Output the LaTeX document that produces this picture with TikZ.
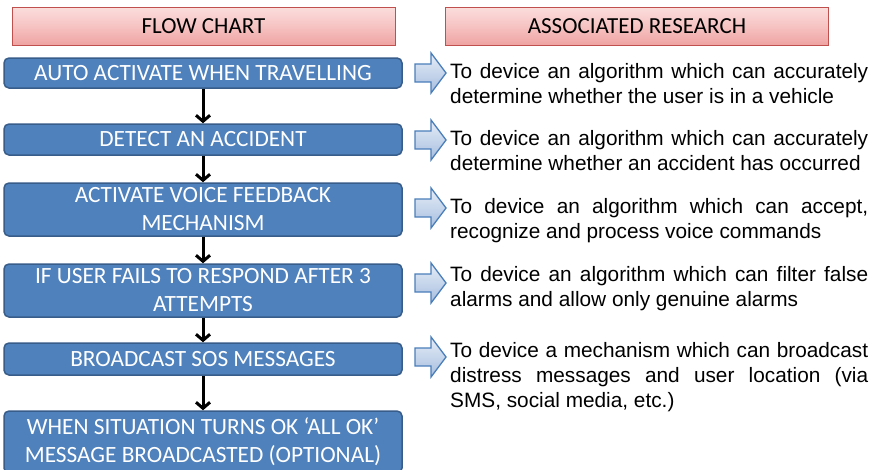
\documentclass[tikz,border=0pt]{standalone}
\usepackage{fontspec}
\setmainfont{Liberation Sans}
\newfontfamily\calibrifont{Carlito}
\usetikzlibrary{arrows.meta}
\definecolor{boxblue}{HTML}{4F81BD}
\definecolor{boxborder}{HTML}{385D8A}
\definecolor{hdrborder}{HTML}{C0504D}
\definecolor{hdrtop}{HTML}{FBDEDD}
\definecolor{hdrbot}{HTML}{EFA3A2}
\definecolor{arrtop}{HTML}{E6EDF7}
\definecolor{arrbot}{HTML}{A6BEDF}
\definecolor{arrborder}{HTML}{4A7EBB}
\tikzset{
  flowbox/.style={draw=boxborder, fill=boxblue, line width=1.5pt, rounded corners=5pt,
    text=white, font=\calibrifont\fontsize{23.3}{28}\selectfont, align=center,
    minimum width=398pt, inner sep=0pt},
  hdrbox/.style={draw=hdrborder, line width=1pt, top color=hdrtop, bottom color=hdrbot,
    middle color=hdrtop!55!hdrbot, text=black,
    font=\calibrifont\fontsize{23}{28}\selectfont,
    minimum width=383pt, minimum height=38pt, inner sep=0pt},
  para/.style={anchor=base west, inner sep=0pt, text width=418pt, align=justify,
    font=\fontsize{20.8}{25}\selectfont},
  varrow/.style={line width=3pt, -{Straight Barb[length=6pt,width=14pt]}},
  barrowstyle/.style={draw=arrborder, line width=1.3pt, top color=arrtop, bottom color=arrbot, line join=miter}
}
\newcommand\blockarrow[2]{\path[barrowstyle, shift={(0,#2)}] (415,-9) -- (431,-9) -- (431,-20) -- (446,0) -- (431,20) -- (431,9) -- (415,9) -- cycle;\coordinate (#1) at (415,#2);}
\begin{document}
\frenchspacing
\hyphenpenalty=10000
\exhyphenpenalty=10000
\tolerance=10000
\hbadness=10000
\begin{tikzpicture}[x=1pt,y=-1pt]
\useasboundingbox (0,0) rectangle (875,469);
\clip (0,0) rectangle (875,469);
\fill[white] (0,0) rectangle (875,469);
% headers
\node[hdrbox] (h1) at (203.5,26) {FLOW CHART};
\node[hdrbox] (h2) at (637,26) {ASSOCIATED RESEARCH};
% flow boxes
\node[flowbox, minimum height=30pt] (b1) at (203,73) {AUTO ACTIVATE WHEN TRAVELLING};
\node[flowbox, minimum height=31pt] (b2) at (203,139.5) {DETECT AN ACCIDENT};
\node[flowbox, minimum height=53pt] (b3) at (203,209.5) {ACTIVATE VOICE FEEDBACK\\MECHANISM};
\node[flowbox, minimum height=53pt] (b4) at (203,290.5) {IF USER FAILS TO RESPOND AFTER 3\\ATTEMPTS};
\node[flowbox, minimum height=32pt] (b5) at (203,359) {BROADCAST SOS MESSAGES};
\node[flowbox, minimum height=62pt] (b6) at (203,442) {WHEN SITUATION TURNS OK ‘ALL OK’\\MESSAGE BROADCASTED (OPTIONAL)};
% connectors
\draw[varrow] (b1) -- (b2);
\draw[varrow] (b2) -- (b3);
\draw[varrow] (b3) -- (b4);
\draw[varrow] (b4) -- (b5);
\draw[varrow] (b5) -- (b6);
% block arrows
\blockarrow{a1}{73}
\blockarrow{a2}{140}
\blockarrow{a3}{208}
\blockarrow{a4}{283}
\blockarrow{a5}{357}
% research texts
\node[para] (p1) at (450,78) {To device an algorithm which can accurately\linebreak determine whether the user is in a vehicle};
\node[para] (p2) at (450,145) {To device an algorithm which can accurately\linebreak determine whether an accident has occurred};
\node[para] (p3) at (450,213) {To device an algorithm which can accept,\linebreak recognize and process voice commands};
\node[para] (p4) at (450,281) {To device an algorithm which can filter false\linebreak alarms and allow only genuine alarms};
\node[para] (p5) at (450,357) {To device a mechanism which can broadcast\linebreak distress messages and user location (via\linebreak SMS, social media, etc.)};
\end{tikzpicture}
\end{document}
